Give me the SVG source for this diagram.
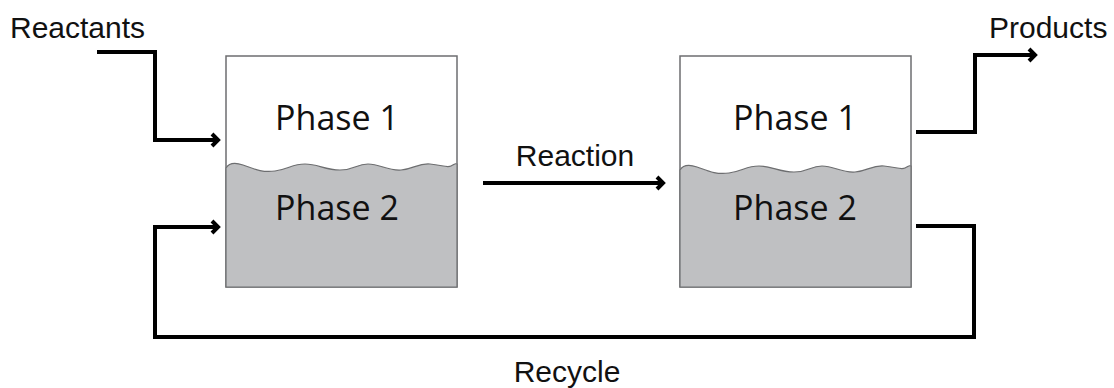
<svg xmlns="http://www.w3.org/2000/svg" width="1114" height="388" viewBox="0 0 1114 388">
<defs>
<marker id="arr" markerUnits="userSpaceOnUse" markerWidth="14" markerHeight="16" refX="8" refY="7" orient="auto" overflow="visible">
<path d="M2,1 L8,7 L2,13" fill="none" stroke="#000" stroke-width="4" stroke-linejoin="miter"/>
</marker>
</defs>
<style>
.box{fill:#fff;stroke:#6d6e70;stroke-width:1.5}
.liq{fill:#bfc0c2;stroke:#6d6e70;stroke-width:1.2}
.ph{font-family:"Open Sans","Liberation Sans",sans-serif;font-size:34px;fill:#111;text-anchor:middle}
.lbl{font-family:"Liberation Sans","Open Sans",sans-serif;font-size:30px;fill:#111}
.ln{fill:none;stroke:#000;stroke-width:4}
</style>
<rect width="1114" height="388" fill="#fff"/>
<g id="reactor1">
<rect class="box" x="226" y="56" width="231" height="231"/>
<path class="liq" d="M226,168 C229,163 234,162 243,165 S261,173 275,171 S292,164 305,164 S325,170 340,170 S356,164 368,164 S388,171 401,170 S418,163 430,164 S447,168 451,166 S455,163 457,164 L457,287 L226,287 Z"/>
<text class="ph" x="337" y="130">Phase 1</text>
<text class="ph" x="337" y="220">Phase 2</text>
</g>
<g id="reactor2">
<rect class="box" x="680" y="56" width="231" height="231"/>
<path class="liq" d="M680,170 C683,165 688,164 697,167 S715,175 729,173 S746,166 759,166 S779,172 794,172 S810,166 822,166 S842,173 855,172 S872,165 884,166 S901,170 905,168 S909,165 911,166 L911,287 L680,287 Z"/>
<text class="ph" x="795" y="130">Phase 1</text>
<text class="ph" x="795" y="220">Phase 2</text>
</g>
<g id="connectors">
<path class="ln" d="M97,52 H155 V140 H218" marker-end="url(#arr)"/>
<path class="ln" d="M483,183 H663" marker-end="url(#arr)"/>
<path class="ln" d="M916,132 H975 V55 H1035" marker-end="url(#arr)"/>
<path class="ln" d="M916,226 H974 V337 H155 V227 H218" marker-end="url(#arr)"/>
</g>
<g id="labels">
<text class="lbl" x="10" y="38">Reactants</text>
<text class="lbl" x="989" y="38">Products</text>
<text class="lbl" x="575" y="166" text-anchor="middle">Reaction</text>
<text class="lbl" x="567" y="382" text-anchor="middle">Recycle</text>
</g>
</svg>
